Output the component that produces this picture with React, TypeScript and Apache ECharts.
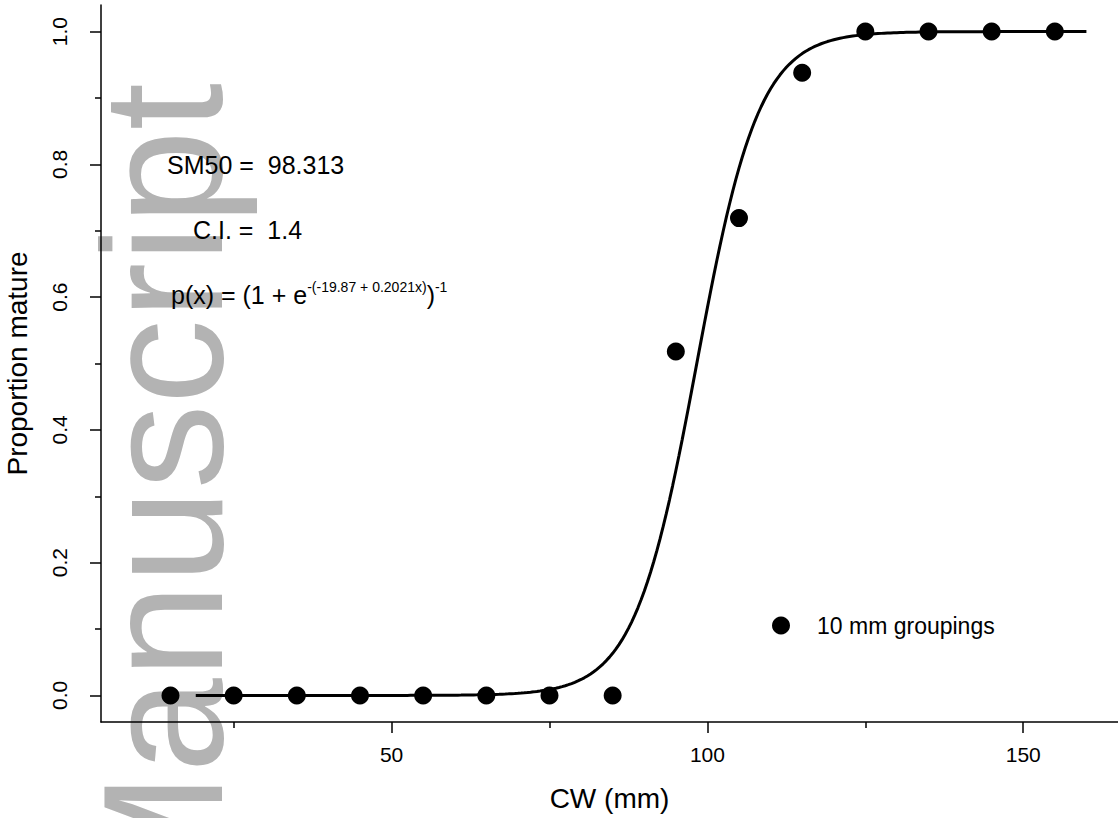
import React, { useEffect, useRef } from "react";
import * as echarts from "echarts";

// Carapace width classes (10 mm groupings, midpoints) and observed proportion mature
const cwClasses = [15, 25, 35, 45, 55, 65, 75, 85, 95, 105, 115, 125, 135, 145, 155];
const propMature = [0, 0, 0, 0, 0, 0, 0, 0, 0.518, 0.719, 0.938, 1, 1, 1, 1];

// Fitted logistic model p(x) = (1 + e^-(a + b x))^-1
const INTERCEPT = -19.87;
const SLOPE = 0.2021;
const SM50 = 98.313;
const CI = 1.4;
const FIT_FROM = 19;
const FIT_TO = 160;
const FIT_STEP = 0.5;

// Axis ticks and labels
const xLabelValues = [50, 100, 150];
const xMinorValues = [25, 75, 125];
const yLabelValues = [0, 0.2, 0.4, 0.6, 0.8, 1.0];
const yMinorValues = [0.1, 0.3, 0.5, 0.7, 0.9];

const FONT = "'Liberation Sans', Arial, Helvetica, sans-serif";

function fittedCurve(): number[][] {
  const pts: number[][] = [];
  for (let x = FIT_FROM; x <= FIT_TO + 1e-9; x += FIT_STEP) {
    pts.push([x, 1 / (1 + Math.exp(-(INTERCEPT + SLOPE * x)))]);
  }
  return pts;
}

export default function App() {
  const ref = useRef<HTMLDivElement>(null);

  useEffect(() => {
    if (!ref.current) return;
    const chart = echarts.init(ref.current, undefined, { renderer: "svg" });

    const axisLineStyle = { color: "#000", width: 1.5 };
    const expSup = `-(${INTERCEPT} + ${SLOPE}x)`;

    chart.setOption({
      animation: false,
      backgroundColor: "#fff",
      textStyle: { fontFamily: FONT, color: "#000" },
      grid: { left: 101, top: 5, right: 0, bottom: 96, containLabel: false, outerBoundsMode: "none" },
      legend: {
        data: ["10 mm groupings"],
        left: 772,
        top: 614,
        padding: 0,
        icon: "circle",
        itemWidth: 18,
        itemHeight: 18,
        itemStyle: { color: "#000", opacity: 1 },
        textStyle: { fontSize: 23, color: "#000", fontFamily: FONT, padding: [0, 0, 0, 22] },
      },
      xAxis: [
        {
          type: "value",
          min: 4,
          max: 165,
          position: "bottom",
          name: "CW (mm)",
          nameLocation: "middle",
          nameGap: 62,
          nameTextStyle: { fontSize: 28, color: "#000", fontFamily: FONT },
          axisLine: { show: true, onZero: false, lineStyle: axisLineStyle },
          axisTick: { show: true, length: 11, customValues: xLabelValues, lineStyle: axisLineStyle },
          axisLabel: { customValues: xLabelValues, fontSize: 21, color: "#000", margin: 22, fontFamily: FONT },
          splitLine: { show: false },
        },
        {
          type: "value",
          min: 4,
          max: 165,
          position: "bottom",
          axisLine: { show: false, onZero: false },
          axisTick: { show: true, length: 6, customValues: xMinorValues, lineStyle: axisLineStyle },
          axisLabel: { show: false },
          splitLine: { show: false },
        },
      ],
      yAxis: [
        {
          type: "value",
          min: -0.04,
          max: 1.04,
          position: "left",
          name: "Proportion mature",
          nameLocation: "middle",
          nameRotate: 90,
          nameGap: 70,
          nameTextStyle: { fontSize: 28, color: "#000", fontFamily: FONT },
          axisLine: { show: true, onZero: false, lineStyle: axisLineStyle },
          axisTick: { show: true, length: 11, customValues: yLabelValues, lineStyle: axisLineStyle },
          axisLabel: {
            customValues: yLabelValues,
            rotate: 90,
            fontSize: 21,
            color: "#000",
            margin: 31,
            fontFamily: FONT,
            formatter: (v: number) => v.toFixed(1),
          },
          splitLine: { show: false },
        },
        {
          type: "value",
          min: -0.04,
          max: 1.04,
          position: "left",
          axisLine: { show: false, onZero: false },
          axisTick: { show: true, length: 6, customValues: yMinorValues, lineStyle: axisLineStyle },
          axisLabel: { show: false },
          splitLine: { show: false },
        },
      ],
      graphic: [
        {
          type: "text",
          z: -10,
          silent: true,
          x: 163,
          y: 83,
          rotation: Math.PI / 2,
          style: {
            text: "Manuscript",
            fontSize: 170,
            fontFamily: FONT,
            fill: "#b3b3b3",
            align: "right",
            verticalAlign: "middle",
          },
        },
        {
          type: "text",
          z: 10,
          x: 167,
          y: 165,
          style: {
            text: `SM50 =  ${SM50}`,
            fontSize: 25,
            fontFamily: FONT,
            fill: "#000",
            align: "left",
            verticalAlign: "middle",
          },
        },
        {
          type: "text",
          z: 10,
          x: 193,
          y: 230,
          style: {
            text: `C.I. =  ${CI}`,
            fontSize: 25,
            fontFamily: FONT,
            fill: "#000",
            align: "left",
            verticalAlign: "middle",
          },
        },
        {
          type: "text",
          z: 10,
          x: 171,
          y: 280,
          style: {
            text: `{m|p(x) = (1 + e}{s|${expSup}}{m|)}{s|-1}`,
            align: "left",
            verticalAlign: "top",
            fill: "#000",
            fontFamily: FONT,
            rich: {
              m: { fontSize: 25, lineHeight: 29, fontFamily: FONT, fill: "#000" },
              s: { fontSize: 14, lineHeight: 14, verticalAlign: "top", fontFamily: FONT, fill: "#000" },
            },
          },
        },
      ],
      series: [
        {
          name: "fit",
          type: "line",
          data: fittedCurve(),
          showSymbol: false,
          symbol: "none",
          smooth: false,
          lineStyle: { color: "#000", width: 3 },
          z: 2,
          silent: true,
        },
        {
          name: "10 mm groupings",
          type: "scatter",
          data: cwClasses.map((x, i) => [x, propMature[i]]),
          symbol: "circle",
          symbolSize: 18,
          itemStyle: { color: "#000", opacity: 1 },
          z: 3,
        },
      ],
    });

    return () => chart.dispose();
  }, []);

  return (
    <div
      ref={ref}
      style={{ position: "absolute", left: 0, top: 0, width: 1118, height: 818 }}
    />
  );
}
